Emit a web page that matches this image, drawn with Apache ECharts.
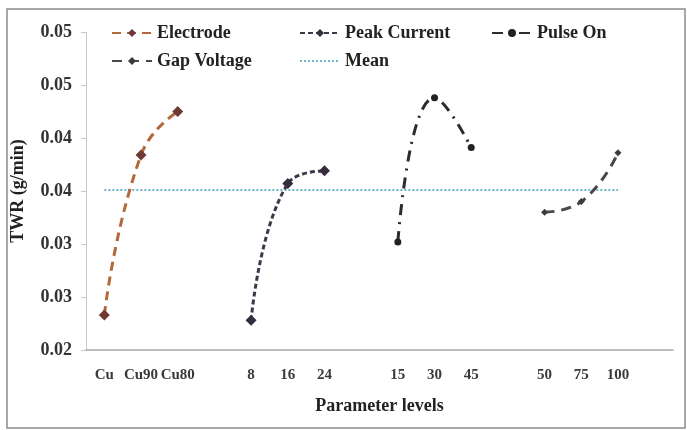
<!DOCTYPE html>
<html>
<head>
<meta charset="utf-8">
<script src="https://cdn.jsdelivr.net/npm/echarts@6/dist/echarts.min.js"></script>
<style>
  html, body { margin: 0; padding: 0; background: #fff; }
  #chart { width: 687px; height: 430px; }
</style>
</head>
<body>
<div id="chart"></div>
<script>
// Parameter levels along the x axis (blank slots separate the four factors)
const categories = ['Cu', 'Cu90', 'Cu80', '', '8', '16', '24', '', '15', '30', '45', '', '50', '75', '100', ''];

// Mean tool wear rate (g/min) at each level of each factor
const electrode   = [0.0233, 0.0384, 0.0425, null, null, null, null, null, null, null, null, null, null, null, null, null];
const peakCurrent = [null, null, null, null, 0.0228, 0.0357, 0.0369, null, null, null, null, null, null, null, null, null];
const pulseOn     = [null, null, null, null, null, null, null, null, 0.0302, 0.0438, 0.0391, null, null, null, null, null];
const gapVoltage  = [null, null, null, null, null, null, null, null, null, null, null, null, 0.0330, 0.0340, 0.0386, null];
const meanValue   = 0.0351;
const mean        = categories.map((c, i) => (i < 15 ? meanValue : null));

// y-axis tick labels, shown with two decimals
const yTickLabels = ['0.02', '0.03', '0.03', '0.04', '0.04', '0.05', '0.05'];

const serif = '"Liberation Serif", "Times New Roman", serif';
const textStyle = { fontFamily: serif, fontWeight: 'bold', fontSize: 18, color: '#222' };

const chart = echarts.init(document.getElementById('chart'), null, { renderer: 'canvas' });

function lineSeries(name, data, color, markColor, dash, symbol, size) {
  return {
    name: name,
    type: 'line',
    data: data,
    smooth: 0.5,
    connectNulls: false,
    symbol: symbol,
    symbolSize: size,
    showSymbol: true,
    itemStyle: { color: markColor },
    lineStyle: { color: color, width: 3, type: dash },
    emphasis: { disabled: true },
    z: 3
  };
}

const legendBase = {
  orient: 'vertical', top: 19, itemGap: 10,
  itemWidth: 40, itemHeight: 10, textStyle: textStyle
};

chart.setOption({
  animation: false,
  backgroundColor: '#fff',
  graphic: [{
    type: 'rect',
    shape: { x: 7, y: 9, width: 678, height: 419 },
    style: { fill: 'none', stroke: '#8a8a8a', lineWidth: 1.5 },
    silent: true
  }],
  grid: { left: 86, right: 14, top: 32, bottom: 80, containLabel: false, outerBoundsMode: 'none' },
  legend: [
    Object.assign({}, legendBase, { left: 106, data: ['Electrode', 'Gap Voltage'] }),
    Object.assign({}, legendBase, { left: 294, data: ['Peak Current', { name: 'Mean', itemStyle: { opacity: 0 } }] }),
    Object.assign({}, legendBase, { left: 486, data: ['Pulse On'] })
  ],
  xAxis: {
    type: 'category',
    data: categories,
    boundaryGap: true,
    name: 'Parameter levels',
    nameLocation: 'middle',
    nameGap: 47,
    nameTextStyle: textStyle,
    axisLine: { lineStyle: { color: '#a8a8a8', width: 1.5 } },
    axisTick: { show: false },
    axisLabel: { interval: 0, margin: 18, fontFamily: serif, fontWeight: 'bold', fontSize: 15, color: '#3a3a3a' },
    splitLine: { show: false }
  },
  yAxis: {
    type: 'value',
    min: 0.02,
    max: 0.05,
    interval: 0.005,
    name: 'TWR (g/min)',
    nameLocation: 'middle',
    nameGap: 59,
    nameRotate: 90,
    nameTextStyle: textStyle,
    axisLine: { show: true, lineStyle: { color: '#c8c8c8', width: 1 } },
    axisTick: { show: true, length: 5, lineStyle: { color: '#c8c8c8' } },
    axisLabel: {
      margin: 14,
      fontFamily: serif, fontWeight: 'bold', fontSize: 18, color: '#333',
      formatter: function (v) {
        const i = Math.round((v - 0.02) / 0.005);
        return yTickLabels[i] !== undefined ? yTickLabels[i] : '';
      }
    },
    splitLine: { show: false }
  },
  series: [
    lineSeries('Electrode', electrode, '#b3693a', '#6e3a33', [9, 6], 'diamond', 11),
    lineSeries('Peak Current', peakCurrent, '#3f3649', '#352d3d', [5, 3], 'diamond', 11),
    lineSeries('Pulse On', pulseOn, '#2b2b31', '#222226', [11, 7, 2, 7], 'circle', 7),
    lineSeries('Gap Voltage', gapVoltage, '#48484c', '#3a3a40', [10, 7], 'diamond', 7),
    {
      name: 'Mean',
      type: 'line',
      data: mean,
      symbol: 'none',
      itemStyle: { color: '#6cb6cc' },
      lineStyle: { color: '#6cb6cc', width: 2, type: [2, 2] },
      emphasis: { disabled: true },
      z: 2
    }
  ]
});
</script>
</body>
</html>
